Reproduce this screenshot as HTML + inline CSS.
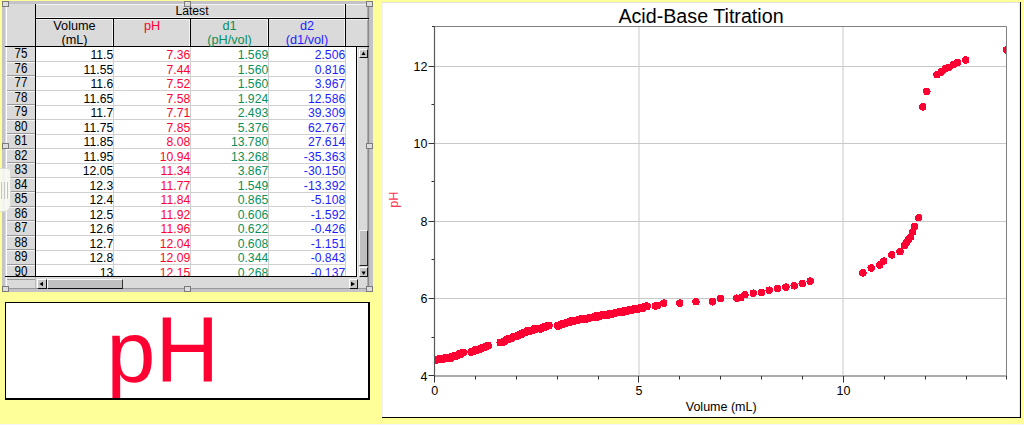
<!DOCTYPE html>
<html><head><meta charset="utf-8"><style>
html,body{margin:0;padding:0}
body{width:1024px;height:425px;background:#FFFF99;position:relative;overflow:hidden;font-family:"Liberation Sans",sans-serif}
.a{position:absolute}
.c{position:absolute;font-size:12.2px;line-height:14.5px;height:14.5px;white-space:nowrap;transform:scaleY(1.10);transform-origin:0 11.5px}
.rh{position:absolute;left:7px;width:28px;text-align:center;font-size:11.6px;line-height:14.5px;color:#000;transform:scaleY(1.2);transform-origin:0 11.5px}
.hd{position:absolute;font-size:12.7px;line-height:14px;text-align:center;top:19.3px;height:28px}
</style></head><body>
<!-- table window frame -->
<div class="a" style="left:2px;top:1px;width:371px;height:291px;background:#c4c4c8"></div>
<div class="a" style="left:5px;top:4px;width:364px;height:285px;background:#dadada"></div>
<div class="a" style="left:367px;top:4px;width:1px;height:285px;background:#a8a8a8"></div><div class="a" style="left:368px;top:4px;width:1px;height:285px;background:#8a8a8a"></div><div class="a" style="left:369px;top:4px;width:1px;height:285px;background:#bcbcbc"></div>
<div class="a" style="left:5px;top:288px;width:364px;height:1px;background:#999"></div>
<div class="a" style="left:6px;top:4px;width:1px;height:284px;background:#fff"></div>
<!-- data area -->
<div class="a" style="left:36px;top:47px;width:321px;height:229px;background:#fff"></div>
<div class="a" style="left:36px;width:309px;height:1px;top:61.0px;background:#d0d0d0"></div>
<div class="a" style="left:7px;width:28px;height:1px;top:60.5px;background:#9a9a9a"></div>
<div class="a" style="left:7px;width:28px;height:1px;top:61.6px;background:#f4f4f4"></div>
<div class="a" style="left:36px;width:309px;height:1px;top:75.5px;background:#d0d0d0"></div>
<div class="a" style="left:7px;width:28px;height:1px;top:75.0px;background:#9a9a9a"></div>
<div class="a" style="left:7px;width:28px;height:1px;top:76.1px;background:#f4f4f4"></div>
<div class="a" style="left:36px;width:309px;height:1px;top:90.0px;background:#d0d0d0"></div>
<div class="a" style="left:7px;width:28px;height:1px;top:89.5px;background:#9a9a9a"></div>
<div class="a" style="left:7px;width:28px;height:1px;top:90.6px;background:#f4f4f4"></div>
<div class="a" style="left:36px;width:309px;height:1px;top:104.5px;background:#d0d0d0"></div>
<div class="a" style="left:7px;width:28px;height:1px;top:104.0px;background:#9a9a9a"></div>
<div class="a" style="left:7px;width:28px;height:1px;top:105.1px;background:#f4f4f4"></div>
<div class="a" style="left:36px;width:309px;height:1px;top:119.0px;background:#d0d0d0"></div>
<div class="a" style="left:7px;width:28px;height:1px;top:118.5px;background:#9a9a9a"></div>
<div class="a" style="left:7px;width:28px;height:1px;top:119.6px;background:#f4f4f4"></div>
<div class="a" style="left:36px;width:309px;height:1px;top:133.5px;background:#d0d0d0"></div>
<div class="a" style="left:7px;width:28px;height:1px;top:133.0px;background:#9a9a9a"></div>
<div class="a" style="left:7px;width:28px;height:1px;top:134.1px;background:#f4f4f4"></div>
<div class="a" style="left:36px;width:309px;height:1px;top:148.0px;background:#d0d0d0"></div>
<div class="a" style="left:7px;width:28px;height:1px;top:147.5px;background:#9a9a9a"></div>
<div class="a" style="left:7px;width:28px;height:1px;top:148.6px;background:#f4f4f4"></div>
<div class="a" style="left:36px;width:309px;height:1px;top:162.5px;background:#d0d0d0"></div>
<div class="a" style="left:7px;width:28px;height:1px;top:162.0px;background:#9a9a9a"></div>
<div class="a" style="left:7px;width:28px;height:1px;top:163.1px;background:#f4f4f4"></div>
<div class="a" style="left:36px;width:309px;height:1px;top:177.0px;background:#d0d0d0"></div>
<div class="a" style="left:7px;width:28px;height:1px;top:176.5px;background:#9a9a9a"></div>
<div class="a" style="left:7px;width:28px;height:1px;top:177.6px;background:#f4f4f4"></div>
<div class="a" style="left:36px;width:309px;height:1px;top:191.5px;background:#d0d0d0"></div>
<div class="a" style="left:7px;width:28px;height:1px;top:191.0px;background:#9a9a9a"></div>
<div class="a" style="left:7px;width:28px;height:1px;top:192.1px;background:#f4f4f4"></div>
<div class="a" style="left:36px;width:309px;height:1px;top:206.0px;background:#d0d0d0"></div>
<div class="a" style="left:7px;width:28px;height:1px;top:205.5px;background:#9a9a9a"></div>
<div class="a" style="left:7px;width:28px;height:1px;top:206.6px;background:#f4f4f4"></div>
<div class="a" style="left:36px;width:309px;height:1px;top:220.5px;background:#d0d0d0"></div>
<div class="a" style="left:7px;width:28px;height:1px;top:220.0px;background:#9a9a9a"></div>
<div class="a" style="left:7px;width:28px;height:1px;top:221.1px;background:#f4f4f4"></div>
<div class="a" style="left:36px;width:309px;height:1px;top:235.0px;background:#d0d0d0"></div>
<div class="a" style="left:7px;width:28px;height:1px;top:234.5px;background:#9a9a9a"></div>
<div class="a" style="left:7px;width:28px;height:1px;top:235.6px;background:#f4f4f4"></div>
<div class="a" style="left:36px;width:309px;height:1px;top:249.5px;background:#d0d0d0"></div>
<div class="a" style="left:7px;width:28px;height:1px;top:249.0px;background:#9a9a9a"></div>
<div class="a" style="left:7px;width:28px;height:1px;top:250.1px;background:#f4f4f4"></div>
<div class="a" style="left:36px;width:309px;height:1px;top:264.0px;background:#d0d0d0"></div>
<div class="a" style="left:7px;width:28px;height:1px;top:263.5px;background:#9a9a9a"></div>
<div class="a" style="left:7px;width:28px;height:1px;top:264.6px;background:#f4f4f4"></div>
<div class="a" style="left:113px;top:47px;width:1px;height:229px;background:#d0d0d0"></div>
<div class="a" style="left:190px;top:47px;width:1px;height:229px;background:#d0d0d0"></div>
<div class="a" style="left:268px;top:47px;width:1px;height:229px;background:#d0d0d0"></div>
<div class="a" style="left:345px;top:47px;width:1px;height:229px;background:#d0d0d0"></div>
<div class="a" style="left:0;top:0;width:1024px;height:276px;overflow:hidden">
<div class="rh" style="top:47.2px">75</div>
<div class="c" style="top:48.2px;right:910.8px;color:#000">11.5</div>
<div class="c" style="top:48.2px;right:833.8px;color:#FF0033">7.36</div>
<div class="c" style="top:48.2px;right:755.8px;color:#0A8F5A">1.569</div>
<div class="c" style="top:48.2px;right:678.8px;color:#1E1EFF">2.506</div>
<div class="rh" style="top:61.7px">76</div>
<div class="c" style="top:62.7px;right:910.8px;color:#000">11.55</div>
<div class="c" style="top:62.7px;right:833.8px;color:#FF0033">7.44</div>
<div class="c" style="top:62.7px;right:755.8px;color:#0A8F5A">1.560</div>
<div class="c" style="top:62.7px;right:678.8px;color:#1E1EFF">0.816</div>
<div class="rh" style="top:76.2px">77</div>
<div class="c" style="top:77.2px;right:910.8px;color:#000">11.6</div>
<div class="c" style="top:77.2px;right:833.8px;color:#FF0033">7.52</div>
<div class="c" style="top:77.2px;right:755.8px;color:#0A8F5A">1.560</div>
<div class="c" style="top:77.2px;right:678.8px;color:#1E1EFF">3.967</div>
<div class="rh" style="top:90.7px">78</div>
<div class="c" style="top:91.7px;right:910.8px;color:#000">11.65</div>
<div class="c" style="top:91.7px;right:833.8px;color:#FF0033">7.58</div>
<div class="c" style="top:91.7px;right:755.8px;color:#0A8F5A">1.924</div>
<div class="c" style="top:91.7px;right:678.8px;color:#1E1EFF">12.586</div>
<div class="rh" style="top:105.2px">79</div>
<div class="c" style="top:106.2px;right:910.8px;color:#000">11.7</div>
<div class="c" style="top:106.2px;right:833.8px;color:#FF0033">7.71</div>
<div class="c" style="top:106.2px;right:755.8px;color:#0A8F5A">2.493</div>
<div class="c" style="top:106.2px;right:678.8px;color:#1E1EFF">39.309</div>
<div class="rh" style="top:119.7px">80</div>
<div class="c" style="top:120.7px;right:910.8px;color:#000">11.75</div>
<div class="c" style="top:120.7px;right:833.8px;color:#FF0033">7.85</div>
<div class="c" style="top:120.7px;right:755.8px;color:#0A8F5A">5.376</div>
<div class="c" style="top:120.7px;right:678.8px;color:#1E1EFF">62.767</div>
<div class="rh" style="top:134.2px">81</div>
<div class="c" style="top:135.2px;right:910.8px;color:#000">11.85</div>
<div class="c" style="top:135.2px;right:833.8px;color:#FF0033">8.08</div>
<div class="c" style="top:135.2px;right:755.8px;color:#0A8F5A">13.780</div>
<div class="c" style="top:135.2px;right:678.8px;color:#1E1EFF">27.614</div>
<div class="rh" style="top:148.7px">82</div>
<div class="c" style="top:149.7px;right:910.8px;color:#000">11.95</div>
<div class="c" style="top:149.7px;right:833.8px;color:#FF0033">10.94</div>
<div class="c" style="top:149.7px;right:755.8px;color:#0A8F5A">13.268</div>
<div class="c" style="top:149.7px;right:678.8px;color:#1E1EFF">-35.363</div>
<div class="rh" style="top:163.2px">83</div>
<div class="c" style="top:164.2px;right:910.8px;color:#000">12.05</div>
<div class="c" style="top:164.2px;right:833.8px;color:#FF0033">11.34</div>
<div class="c" style="top:164.2px;right:755.8px;color:#0A8F5A">3.867</div>
<div class="c" style="top:164.2px;right:678.8px;color:#1E1EFF">-30.150</div>
<div class="rh" style="top:177.7px">84</div>
<div class="c" style="top:178.7px;right:910.8px;color:#000">12.3</div>
<div class="c" style="top:178.7px;right:833.8px;color:#FF0033">11.77</div>
<div class="c" style="top:178.7px;right:755.8px;color:#0A8F5A">1.549</div>
<div class="c" style="top:178.7px;right:678.8px;color:#1E1EFF">-13.392</div>
<div class="rh" style="top:192.2px">85</div>
<div class="c" style="top:193.2px;right:910.8px;color:#000">12.4</div>
<div class="c" style="top:193.2px;right:833.8px;color:#FF0033">11.84</div>
<div class="c" style="top:193.2px;right:755.8px;color:#0A8F5A">0.865</div>
<div class="c" style="top:193.2px;right:678.8px;color:#1E1EFF">-5.108</div>
<div class="rh" style="top:206.7px">86</div>
<div class="c" style="top:207.7px;right:910.8px;color:#000">12.5</div>
<div class="c" style="top:207.7px;right:833.8px;color:#FF0033">11.92</div>
<div class="c" style="top:207.7px;right:755.8px;color:#0A8F5A">0.606</div>
<div class="c" style="top:207.7px;right:678.8px;color:#1E1EFF">-1.592</div>
<div class="rh" style="top:221.2px">87</div>
<div class="c" style="top:222.2px;right:910.8px;color:#000">12.6</div>
<div class="c" style="top:222.2px;right:833.8px;color:#FF0033">11.96</div>
<div class="c" style="top:222.2px;right:755.8px;color:#0A8F5A">0.622</div>
<div class="c" style="top:222.2px;right:678.8px;color:#1E1EFF">-0.426</div>
<div class="rh" style="top:235.7px">88</div>
<div class="c" style="top:236.7px;right:910.8px;color:#000">12.7</div>
<div class="c" style="top:236.7px;right:833.8px;color:#FF0033">12.04</div>
<div class="c" style="top:236.7px;right:755.8px;color:#0A8F5A">0.608</div>
<div class="c" style="top:236.7px;right:678.8px;color:#1E1EFF">-1.151</div>
<div class="rh" style="top:250.2px">89</div>
<div class="c" style="top:251.2px;right:910.8px;color:#000">12.8</div>
<div class="c" style="top:251.2px;right:833.8px;color:#FF0033">12.09</div>
<div class="c" style="top:251.2px;right:755.8px;color:#0A8F5A">0.344</div>
<div class="c" style="top:251.2px;right:678.8px;color:#1E1EFF">-0.843</div>
<div class="rh" style="top:264.7px">90</div>
<div class="c" style="top:265.7px;right:910.8px;color:#000">13</div>
<div class="c" style="top:265.7px;right:833.8px;color:#FF0033">12.15</div>
<div class="c" style="top:265.7px;right:755.8px;color:#0A8F5A">0.268</div>
<div class="c" style="top:265.7px;right:678.8px;color:#1E1EFF">-0.137</div>
</div>
<!-- header highlights -->
<div class="a" style="left:36px;top:4px;width:332px;height:1px;background:#f2f2f2"></div>
<div class="a" style="left:36px;top:17px;width:309px;height:1px;background:#f0f0f0"></div>
<div class="a" style="left:36px;top:19px;width:332px;height:1px;background:#f0f0f0"></div>
<div class="a" style="left:112px;top:19px;width:1px;height:27px;background:#f4f4f4"></div>
<div class="a" style="left:189px;top:19px;width:1px;height:27px;background:#f4f4f4"></div>
<div class="a" style="left:267px;top:19px;width:1px;height:27px;background:#f4f4f4"></div>
<div class="a" style="left:344px;top:5px;width:1px;height:41px;background:#f4f4f4"></div>
<!-- header black lines -->
<div class="a" style="left:35px;top:4px;width:1px;height:272px;background:#000"></div>
<div class="a" style="left:35px;top:18px;width:334px;height:1px;background:#000"></div>
<div class="a" style="left:5px;top:46px;width:364px;height:1px;background:#000"></div>
<div class="a" style="left:113px;top:18px;width:1px;height:28px;background:#000"></div>
<div class="a" style="left:190px;top:18px;width:1px;height:28px;background:#000"></div>
<div class="a" style="left:268px;top:18px;width:1px;height:28px;background:#000"></div>
<div class="a" style="left:345px;top:4px;width:1px;height:42px;background:#000"></div>
<div class="a" style="left:356px;top:47px;width:1px;height:230px;background:#000"></div>
<div class="a" style="left:357px;top:47px;width:1px;height:230px;background:#f0f0f0"></div>
<div class="a" style="left:5px;top:276px;width:352px;height:1px;background:#000"></div>
<div class="a" style="left:7px;top:279px;width:28px;height:1px;background:#9a9a9a"></div>
<div class="a" style="left:35px;top:277px;width:1px;height:11px;background:#bbb"></div>
<!-- header text -->
<div class="a" style="left:37px;top:3.5px;width:310px;text-align:center;font-size:12.2px;line-height:14.5px;transform:scaleY(1.09);transform-origin:0 11.5px">Latest</div>
<div class="hd" style="left:36px;width:77px">Volume<br>(mL)</div>
<div class="hd" style="left:114px;width:76px;color:#FF0033">pH</div>
<div class="hd" style="left:191px;width:77px;color:#0A8F5A">d1<br>(pH/vol)</div>
<div class="hd" style="left:269px;width:76px;color:#1E1EFF">d2<br>(d1/vol)</div>
<!-- vertical scrollbar -->
<div class="a" style="left:359px;top:49px;width:9px;height:9px;background:#c8c8c8;border-top:1px solid #fff;border-left:1px solid #fff;border-right:1px solid #111;border-bottom:1px solid #111;box-sizing:border-box"></div><svg class="a" style="left:0;top:0" width="1024" height="300"><path d="M361.5 55 L363.5 51.5 L365.5 55 Z" fill="#000"/></svg>
<div class="a" style="left:359px;top:230px;width:9px;height:36px;background:#c0c0c0;border-top:1px solid #f4f4f4;border-left:1px solid #f4f4f4;border-bottom:1px solid #222;border-right:1px solid #222;box-sizing:border-box"></div>
<div class="a" style="left:359px;top:267px;width:9px;height:10px;background:#c8c8c8;border-top:1px solid #fff;border-left:1px solid #fff;border-right:1px solid #111;border-bottom:1px solid #111;box-sizing:border-box"></div><svg class="a" style="left:0;top:0" width="1024" height="300"><path d="M361.5 271.5 L363.7 275 L365.8 271.5 Z" fill="#000"/></svg>
<!-- horizontal scrollbar -->
<div class="a" style="left:37px;top:279px;width:10px;height:10px;background:#c8c8c8;border-top:1px solid #fff;border-left:1px solid #fff;border-right:1px solid #111;border-bottom:1px solid #111;box-sizing:border-box"></div><svg class="a" style="left:0;top:0" width="1024" height="300"><path d="M39.5 284 L43 281.8 L43 286.2 Z" fill="#000"/></svg>
<div class="a" style="left:47px;top:279px;width:76px;height:10px;background:#c0c0c0;border-top:1px solid #fff;border-left:1px solid #fff;border-right:1px solid #333;border-bottom:1px solid #111;box-sizing:border-box"></div>
<div class="a" style="left:349px;top:279px;width:9px;height:10px;background:#c8c8c8;border-top:1px solid #fff;border-left:1px solid #fff;border-right:1px solid #111;border-bottom:1px solid #111;box-sizing:border-box"></div><svg class="a" style="left:0;top:0" width="1024" height="300"><path d="M351 281.8 L355 284 L351 286.2 Z" fill="#000"/></svg>
<!-- handles -->
<div class="a" style="left:2px;top:1px;width:7px;height:6px;border:1px solid #7a7a7a;background:#dcdcdc;box-sizing:border-box"></div><div class="a" style="left:184px;top:1px;width:7px;height:6px;border:1px solid #7a7a7a;background:#dcdcdc;box-sizing:border-box"></div><div class="a" style="left:366px;top:1px;width:7px;height:6px;border:1px solid #7a7a7a;background:#dcdcdc;box-sizing:border-box"></div><div class="a" style="left:2px;top:143px;width:7px;height:6px;border:1px solid #7a7a7a;background:#dcdcdc;box-sizing:border-box"></div><div class="a" style="left:366px;top:143px;width:7px;height:6px;border:1px solid #7a7a7a;background:#dcdcdc;box-sizing:border-box"></div><div class="a" style="left:2px;top:286px;width:7px;height:6px;border:1px solid #7a7a7a;background:#dcdcdc;box-sizing:border-box"></div><div class="a" style="left:184px;top:286px;width:7px;height:6px;border:1px solid #7a7a7a;background:#dcdcdc;box-sizing:border-box"></div><div class="a" style="left:366px;top:286px;width:7px;height:6px;border:1px solid #7a7a7a;background:#dcdcdc;box-sizing:border-box"></div>

<!-- pH meter box -->
<div class="a" style="left:5px;top:302px;width:365px;height:98px;background:#fff;border:1px solid #000;border-right-width:2px;border-bottom-width:2px;box-sizing:border-box;overflow:hidden">
<div class="a" style="left:100.5px;top:-1.5px;font-size:88px;line-height:100px;color:#FF0033">p</div><div class="a" style="left:149.4px;top:-1.2px;font-size:88px;line-height:100px;color:#FF0033;transform:scaleY(1.043);transform-origin:0 80.5px">H</div>
</div>

<!-- graph window -->
<div class="a" style="left:382px;top:2px;width:639px;height:416px;background:#fff;border-right:1px solid #000;border-bottom:1px solid #000;box-sizing:border-box"></div>
<div class="a" style="left:382px;top:7px;width:638px;text-align:center;font-size:19.7px;line-height:18px;transform:scaleY(1.065);transform-origin:0 15.8px">Acid-Base Titration</div>
<div class="a" style="left:382px;top:2px;width:638px;height:1px;background:#e0e0dc"></div>
<div class="a" style="left:382px;top:3px;width:1px;height:414px;background:#f0f0fc"></div>
<div class="a" style="left:1019px;top:3px;width:1px;height:414px;background:#e8e8e8"></div>
<svg class="a" style="left:0;top:0" width="1024" height="425" viewBox="0 0 1024 425">
<rect x="638" y="27" width="2" height="348" fill="#e4e4e4"/>
<rect x="842" y="27" width="2" height="348" fill="#e4e4e4"/>
<g stroke="#c8c8c8" stroke-width="1">
<line x1="434" y1="66.5" x2="1006" y2="66.5"/>
<line x1="434" y1="143.5" x2="1006" y2="143.5"/>
<line x1="434" y1="221.5" x2="1006" y2="221.5"/>
<line x1="434" y1="298.5" x2="1006" y2="298.5"/>
</g>
<g stroke="#808080" stroke-width="1" fill="none">
<path d="M434.5 26.5 H1006.5 V375.5"/>
</g>
<defs><clipPath id="pc"><rect x="435" y="27" width="571" height="348"/></clipPath></defs>
<g fill="#FF0033" clip-path="url(#pc)" shape-rendering="crispEdges"><circle cx="655.4" cy="306.0" r="3.75"/><circle cx="657.8" cy="305.5" r="3.75"/><circle cx="663.7" cy="303.1" r="3.75"/><circle cx="679.8" cy="303.1" r="3.75"/><circle cx="695.9" cy="301.6" r="3.75"/><circle cx="712.5" cy="301.8" r="3.75"/><circle cx="720.5" cy="298.7" r="3.75"/><circle cx="736.9" cy="298.2" r="3.75"/><circle cx="740.8" cy="297.7" r="3.75"/><circle cx="744.9" cy="294.7" r="3.75"/><circle cx="753.3" cy="293.2" r="3.75"/><circle cx="761.4" cy="292.7" r="3.75"/><circle cx="769.2" cy="290.2" r="3.75"/><circle cx="777.5" cy="288.3" r="3.75"/><circle cx="785.9" cy="287.1" r="3.75"/><circle cx="794.2" cy="285.8" r="3.75"/><circle cx="802.2" cy="283.6" r="3.75"/><circle cx="810.2" cy="281.1" r="3.75"/><circle cx="862.9" cy="272.9" r="3.75"/><circle cx="871.2" cy="268.0" r="3.75"/><circle cx="879.7" cy="265.0" r="3.75"/><circle cx="883.6" cy="261.1" r="3.75"/><circle cx="891.7" cy="254.9" r="3.75"/><circle cx="900.0" cy="251.7" r="3.75"/><circle cx="904.4" cy="245.6" r="3.75"/><circle cx="906.4" cy="242.5" r="3.75"/><circle cx="908.4" cy="239.4" r="3.75"/><circle cx="910.5" cy="237.1" r="3.75"/><circle cx="912.5" cy="232.0" r="3.75"/><circle cx="914.6" cy="226.6" r="3.75"/><circle cx="918.7" cy="217.7" r="3.75"/><circle cx="922.7" cy="106.9" r="3.75"/><circle cx="926.8" cy="91.4" r="3.75"/><circle cx="937.0" cy="74.7" r="3.75"/><circle cx="941.1" cy="72.0" r="3.75"/><circle cx="945.2" cy="68.9" r="3.75"/><circle cx="949.3" cy="67.3" r="3.75"/><circle cx="953.4" cy="64.3" r="3.75"/><circle cx="957.5" cy="62.3" r="3.75"/><circle cx="965.6" cy="60.0" r="3.75"/><circle cx="1006.5" cy="49.9" r="3.75"/><circle cx="434.0" cy="359.8" r="4.0"/><circle cx="436.3" cy="359.9" r="4.0"/><circle cx="438.5" cy="359.3" r="4.0"/><circle cx="440.8" cy="359.3" r="4.0"/><circle cx="443.0" cy="359.1" r="4.0"/><circle cx="445.3" cy="358.1" r="4.0"/><circle cx="447.5" cy="357.7" r="4.0"/><circle cx="449.8" cy="358.4" r="4.0"/><circle cx="452.0" cy="356.8" r="4.0"/><circle cx="454.3" cy="355.8" r="4.0"/><circle cx="456.5" cy="355.8" r="4.0"/><circle cx="458.7" cy="354.3" r="4.0"/><circle cx="461.0" cy="353.8" r="4.0"/><circle cx="463.2" cy="352.5" r="4.0"/><circle cx="471.4" cy="351.9" r="4.0"/><circle cx="473.5" cy="351.2" r="4.0"/><circle cx="475.7" cy="349.8" r="4.0"/><circle cx="477.9" cy="349.6" r="4.0"/><circle cx="480.0" cy="349.0" r="4.0"/><circle cx="482.0" cy="347.9" r="4.0"/><circle cx="484.0" cy="347.4" r="4.0"/><circle cx="486.0" cy="346.6" r="4.0"/><circle cx="488.0" cy="345.7" r="4.0"/><circle cx="500.4" cy="342.5" r="4.0"/><circle cx="502.5" cy="342.3" r="4.0"/><circle cx="504.6" cy="341.2" r="4.0"/><circle cx="506.7" cy="339.8" r="4.0"/><circle cx="508.7" cy="338.6" r="4.0"/><circle cx="510.8" cy="338.6" r="4.0"/><circle cx="512.9" cy="337.1" r="4.0"/><circle cx="515.0" cy="336.5" r="4.0"/><circle cx="517.1" cy="335.8" r="4.0"/><circle cx="519.3" cy="334.7" r="4.0"/><circle cx="521.5" cy="334.1" r="4.0"/><circle cx="523.6" cy="332.5" r="4.0"/><circle cx="525.8" cy="332.1" r="4.0"/><circle cx="527.9" cy="330.8" r="4.0"/><circle cx="530.0" cy="331.0" r="4.0"/><circle cx="532.1" cy="330.5" r="4.0"/><circle cx="534.3" cy="329.2" r="4.0"/><circle cx="536.4" cy="328.8" r="4.0"/><circle cx="538.5" cy="328.5" r="4.0"/><circle cx="540.5" cy="328.7" r="4.0"/><circle cx="542.6" cy="327.4" r="4.0"/><circle cx="544.6" cy="327.0" r="4.0"/><circle cx="546.7" cy="326.0" r="4.0"/><circle cx="548.7" cy="325.6" r="4.0"/><circle cx="557.8" cy="325.8" r="4.0"/><circle cx="560.1" cy="324.8" r="4.0"/><circle cx="562.4" cy="324.0" r="4.0"/><circle cx="564.6" cy="323.4" r="4.0"/><circle cx="566.9" cy="322.6" r="4.0"/><circle cx="569.2" cy="322.1" r="4.0"/><circle cx="571.5" cy="321.0" r="4.0"/><circle cx="573.6" cy="320.9" r="4.0"/><circle cx="575.8" cy="320.5" r="4.0"/><circle cx="578.0" cy="320.2" r="4.0"/><circle cx="580.1" cy="319.5" r="4.0"/><circle cx="582.2" cy="318.5" r="4.0"/><circle cx="584.4" cy="319.0" r="4.0"/><circle cx="586.5" cy="318.7" r="4.0"/><circle cx="588.7" cy="318.2" r="4.0"/><circle cx="590.9" cy="317.5" r="4.0"/><circle cx="593.0" cy="317.3" r="4.0"/><circle cx="595.1" cy="316.3" r="4.0"/><circle cx="597.3" cy="316.7" r="4.0"/><circle cx="599.4" cy="316.0" r="4.0"/><circle cx="601.6" cy="315.3" r="4.0"/><circle cx="603.7" cy="314.6" r="4.0"/><circle cx="605.8" cy="315.2" r="4.0"/><circle cx="608.0" cy="315.0" r="4.0"/><circle cx="610.1" cy="313.5" r="4.0"/><circle cx="612.3" cy="314.0" r="4.0"/><circle cx="614.4" cy="313.2" r="4.0"/><circle cx="616.6" cy="312.5" r="4.0"/><circle cx="618.7" cy="312.2" r="4.0"/><circle cx="620.9" cy="312.3" r="4.0"/><circle cx="623.0" cy="312.0" r="4.0"/><circle cx="625.2" cy="310.6" r="4.0"/><circle cx="627.4" cy="310.9" r="4.0"/><circle cx="629.5" cy="309.7" r="4.0"/><circle cx="631.7" cy="310.1" r="4.0"/><circle cx="633.8" cy="309.2" r="4.0"/><circle cx="636.0" cy="309.5" r="4.0"/><circle cx="638.2" cy="309.0" r="4.0"/><circle cx="640.4" cy="307.9" r="4.0"/><circle cx="642.5" cy="308.0" r="4.0"/><circle cx="644.7" cy="306.6" r="4.0"/><circle cx="646.9" cy="306.3" r="4.0"/></g>
<g stroke="#585858" stroke-width="1.2" fill="none">
<path d="M434.5 26 V376 H1007"/>
</g>
<g stroke="#333" stroke-width="1" fill="none">
<path d="M428.5 66.5 H434 M428.5 143.5 H434 M428.5 221.5 H434 M428.5 298.5 H434 M428.5 375.5 H434"/>
<path d="M431.5 104.5 H434 M431.5 181.5 H434 M431.5 259.5 H434 M431.5 337.5 H434"/>
<path d="M432 26.5 H434"/>
<path d="M434.5 376 V382.5 M638.5 376 V382.5 M843.5 376 V382.5"/>
<path d="M475.5 376 V379.5 M516.5 376 V379.5 M557.5 376 V379.5 M598.5 376 V379.5 M679.5 376 V379.5 M720.5 376 V379.5 M761.5 376 V379.5 M802.5 376 V379.5 M884.5 376 V379.5 M925.5 376 V379.5 M966.5 376 V379.5 M1006.5 376 V379.5"/>
</g>
<g font-family="Liberation Sans, sans-serif" font-size="12.5" fill="#000">
<text transform="translate(427.5,71) scale(1,1.07)" text-anchor="end">12</text>
<text transform="translate(427.5,148) scale(1,1.07)" text-anchor="end">10</text>
<text transform="translate(427.5,225.5) scale(1,1.07)" text-anchor="end">8</text>
<text transform="translate(427.5,303) scale(1,1.07)" text-anchor="end">6</text>
<text transform="translate(427.5,380.5) scale(1,1.07)" text-anchor="end">4</text>
<text transform="translate(434.8,395) scale(1,1.07)" text-anchor="middle">0</text>
<text transform="translate(639,395) scale(1,1.07)" text-anchor="middle">5</text>
<text transform="translate(843.5,395) scale(1,1.07)" text-anchor="middle">10</text>
<text x="721.2" y="410.8" text-anchor="middle">Volume (mL)</text>
</g>
<text transform="translate(398.2,199.6) rotate(-90)" text-anchor="middle" font-family="Liberation Sans, sans-serif" font-size="12.6" fill="#FF3355">pH</text>
</svg>
<div class="a" style="left:-1px;top:168px;width:12px;height:44px;background:rgba(250,250,244,0.88);border:1px solid rgba(0,0,0,0.10);border-radius:0 4px 7px 0;box-sizing:border-box"></div>
<div class="a" style="left:1px;top:182px;width:1px;height:17px;background:#c4c4c4"></div>
<div class="a" style="left:4px;top:182px;width:1px;height:17px;background:#c4c4c4"></div>
<div class="a" style="left:7px;top:182px;width:1px;height:17px;background:#c4c4c4"></div>
<div class="a" style="left:0;top:424px;width:1024px;height:1px;background:#f6f6fa"></div>
</body></html>
